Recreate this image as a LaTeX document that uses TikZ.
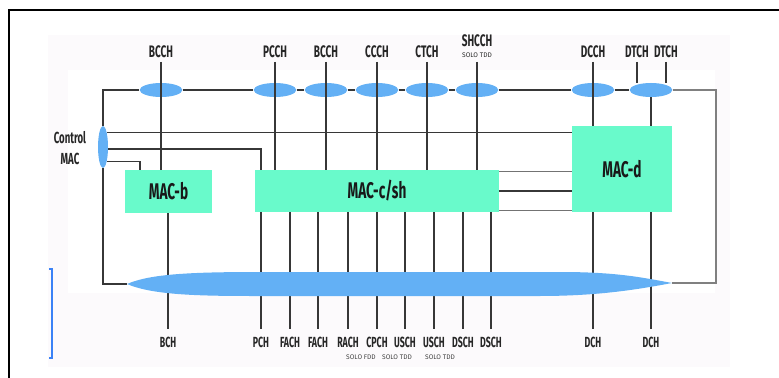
\documentclass[tikz,border=0pt]{standalone}
\usepackage{fontspec}
\usepackage{tikz}
\usetikzlibrary{shapes.geometric}
\newfontfamily\chanfont{Fira Sans}[FakeStretch=0.6]
\newfontfamily\notefont{Fira Sans}
\definecolor{busblue}{RGB}{99,176,245}
\definecolor{macgreen}{RGB}{105,250,203}
\definecolor{wiregray}{RGB}{55,55,55}
\definecolor{bracketblue}{RGB}{59,130,246}
\definecolor{paper}{RGB}{252,250,252}

\tikzset{
  chan/.style={ellipse, fill=busblue, minimum width=32pt, minimum height=10.5pt, inner sep=0pt},
  mac/.style={rectangle, fill=macgreen, inner sep=0pt, text=black!90,
    font=\chanfont\bfseries\fontsize{17}{17}\selectfont},
  toplbl/.style={anchor=south, inner sep=3pt, text=black!85,
    font=\chanfont\bfseries\fontsize{12.5}{13}\selectfont},
  botlbl/.style={anchor=north, inner sep=6pt, text=black!85,
    font=\chanfont\bfseries\fontsize{11}{12}\selectfont},
  note/.style={inner sep=0pt, text=black!75, font=\notefont\fontsize{5}{5}\selectfont},
  wire/.style={draw=wiregray, line width=0.9pt},
}

\begin{document}
\begin{tikzpicture}[x=0.75pt,y=0.75pt,yscale=-1,xscale=1]
\useasboundingbox (0,0) rectangle (779,378);

% page background and frame
\fill[paper] (48,35) rectangle (730,367);
\fill[white] (68,70) rectangle (715,293);
\draw[line width=1.6pt] (9,378) -- (9,10) -- (779,10);
\draw[bracketblue, line width=0.8pt] (49,269) -- (52,269) -- (52,358) -- (49,358);

% MAC entities
\node[mac, minimum width=65pt, minimum height=32pt] (macb) at (168.5,191.5) {MAC-b};
\node[mac, minimum width=183pt, minimum height=31.5pt] (macc) at (377,191) {MAC-c/sh};
\node[mac, minimum width=75pt, minimum height=64.5pt] (macd) at (622,169) {MAC-d};

% control MAC
\node[ellipse, fill=busblue, minimum width=7.5pt, minimum height=31.5pt, inner sep=0pt] (ctrl) at (103,147) {};
\node[align=center, inner sep=0pt, text=black!85, font=\chanfont\bfseries\fontsize{12}{15.75}\selectfont] (lctrl) at (70,148) {Control\\MAC};

% logical channels (top)
\foreach \n/\x in {bcch/161, pcch/275, bcchb/326, ccch/377, ctch/427, shcch/477, dcch/593, dtch/651}
  \node[chan] (\n) at (\x,90) {};

\node[toplbl] (lBCCH) at (161,62) {BCCH};
\node[toplbl] (lPCCH) at (275,62) {PCCH};
\node[toplbl] (lBCCHb) at (326,62) {BCCH};
\node[toplbl] (lCCCH) at (377,62) {CCCH};
\node[toplbl] (lCTCH) at (427,62) {CTCH};
\node[toplbl, align=center] (lSHCCH) at (477,62) {SHCCH\\[-4.75pt]{\notefont\mdseries\fontsize{5}{5}\selectfont SOLO TDD}};
\node[toplbl] (lDCCH) at (593,62) {DCCH};
\node[toplbl] (lDTCHa) at (637,62) {DTCH};
\node[toplbl] (lDTCHb) at (666,62) {DTCH};

% transport channels (bottom)
\node[botlbl] (lBCH) at (168,329) {BCH};
\node[botlbl] (lPCH) at (261,329) {PCH};
\node[botlbl] (lFACHa) at (290,329) {FACH};
\node[botlbl] (lFACHb) at (318,329) {FACH};
\node[botlbl] (lRACH) at (348,329) {RACH};
\node[botlbl] (lCPCH) at (377,329) {CPCH};
\node[botlbl] (lUSCHa) at (405,329) {USCH};
\node[botlbl] (lUSCHb) at (434,329) {USCH};
\node[botlbl] (lDSCHa) at (463,329) {DSCH};
\node[botlbl] (lDSCHb) at (491,329) {DSCH};
\node[botlbl] (lDCHa) at (593,329) {DCH};
\node[botlbl] (lDCHb) at (651,329) {DCH};

\node[note] (nCPCH) at (361,357) {SOLO FDD};
\node[note] (nUSCHa) at (397,357) {SOLO TDD};
\node[note] (nUSCHb) at (440,357) {SOLO TDD};

\coordinate (cornerR) at (716,90);
\coordinate (busL) at (127,284);
\coordinate (busR) at (672,283);
\coordinate (macbIn) at (140,170);

% outer loop
\draw[wire] (ctrl.north) |- (bcch.west);
\foreach \a/\b in {bcch/pcch, pcch/bcchb, bcchb/ccch, ccch/ctch, ctch/shcch, shcch/dcch, dcch/dtch}
  \draw[wire] (\a.east) -- (\b.west);
\draw[wire, draw=black!50] (dtch.east) -- (cornerR) |- (busR);
\draw[wire] (ctrl.south) |- (busL);

% logical channels into MACs
\draw[wire] (lBCCH.south) -- (lBCCH.south |- macb.north);
\foreach \l in {lPCCH, lBCCHb, lCCCH, lCTCH, lSHCCH}
  \draw[wire] (\l.south) -- (\l.south |- macc.north);
\draw[wire] (lDCCH.south) -- (lDCCH.south |- macd.north);
\draw[wire] (lDTCHa.south) -- (lDTCHa.south |- dtch.north);
\draw[wire] (lDTCHb.south) -- (lDTCHb.south |- dtch.north);
\draw[wire] (dtch.south) -- (dtch.south |- macd.north);

% control lines
\draw[wire] (ctrl.75) -- (ctrl.75 -| macd.west);
\draw[wire] (ctrl.-20) -| (lPCH.north |- macc.north);
\draw[wire] (ctrl.-75) -| (macbIn);

% MAC-c/sh to MAC-d
\draw[wire, draw=black!55] (macc.9) -- (macc.9 -| macd.west);
\draw[wire, line width=1.4pt] (macc.east) -- (macc.east -| macd.west);
\draw[wire, draw=black!55] (macc.-9) -- (macc.-9 -| macd.west);

% transport channels out of MACs
\draw[wire] (macb.south -| lBCH.north) -- (lBCH.north);
\foreach \l in {lPCH, lFACHa, lFACHb, lRACH, lCPCH, lUSCHa, lUSCHb, lDSCHa, lDSCHb}
  \draw[wire] (macc.south -| \l.north) -- (\l.north);
\draw[wire] (macd.south -| lDCHa.north) -- (lDCHa.north);
\draw[wire] (macd.south -| lDCHb.north) -- (lDCHb.north);

% physical layer bus
\fill[busblue] (busL) .. controls (150,274) and (190,272) .. (260,272) -- (560,272)
  .. controls (615,272) and (640,277) .. (busR)
  .. controls (640,289) and (600,296) .. (540,296) -- (250,296)
  .. controls (190,296) and (150,294) .. cycle;

\end{tikzpicture}
\end{document}
